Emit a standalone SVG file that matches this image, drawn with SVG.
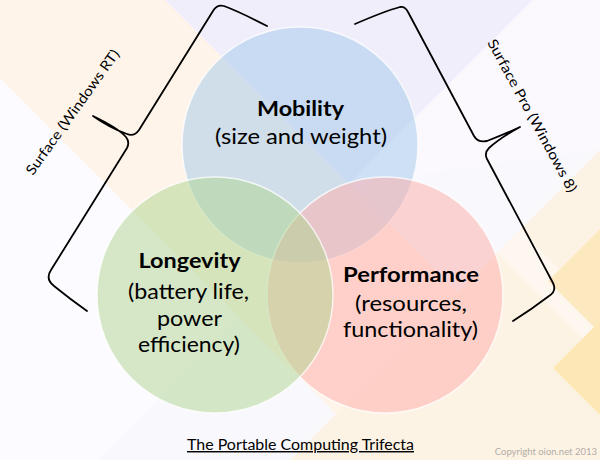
<svg xmlns="http://www.w3.org/2000/svg" width="600" height="460" viewBox="0 0 600 460">
  <defs>
    <style>
      .circ { stroke: #ffffff; stroke-width: 1.5; stroke-opacity: 0.75; fill-opacity: 0.5; }
      .title { font-family: Lato, "Liberation Sans", sans-serif; font-weight: bold; font-size: 21px; fill: #000; text-anchor: middle; }
      .sub { font-family: Lato, "Liberation Sans", sans-serif; font-size: 21px; fill: #000; text-anchor: middle; }
      .brace { fill: none; stroke: #000; stroke-width: 1.8; stroke-linejoin: round; stroke-linecap: round; }
      .blabel { font-family: Lato, "Liberation Sans", sans-serif; font-size: 14px; fill: #000; text-anchor: middle; }
      .caption { font-family: Lato, "Liberation Sans", sans-serif; font-size: 14.5px; fill: #000; text-decoration: underline; }
      .copy { font-family: Lato, "Liberation Sans", sans-serif; font-size: 9.5px; fill: #b3aca7; text-anchor: end; }
    </style>
  </defs>

  <g id="background">
    <rect x="0" y="0" width="600" height="460" fill="#fcfbff"/>
    <polygon points="557,0 600,0 600,460 97,460" fill="#f9f8fd"/>
    <polygon points="165,0 533,0 349,184" fill="#efeefa"/>
    <polygon points="533,0 600,0 600,150 349,184" fill="#fbf8fe"/>
    <polygon points="0,0 165,0 625,460 382,460 0,78" fill="#fef4ea"/>
    <polygon points="600,150 600,460 290,460" fill="#fdf3e4"/>
    <polygon points="497,253 520,230 600,310 600,356" fill="#fdf7ef"/>
    <polygon points="548,281 600,229 600,333" fill="#fde9bf"/>
    <polygon points="553,368 600,321 600,415" fill="#fde7b6"/>
  </g>

  <g id="mobility">
    <circle class="circ" cx="300" cy="145" r="118" fill="#a2c8ea"/>
  </g>
  <g id="performance">
    <circle class="circ" cx="385" cy="295" r="118" fill="#feaca8"/>
  </g>
  <g id="longevity">
    <circle class="circ" cx="215" cy="295" r="118" fill="#aed48e"/>
  </g>

  <g id="mobility-label">
    <text class="title" x="300.5" y="116" textLength="87" lengthAdjust="spacingAndGlyphs">Mobility</text>
    <text class="sub" x="301" y="144" textLength="172" lengthAdjust="spacingAndGlyphs">(size and weight)</text>
  </g>
  <g id="longevity-label">
    <text class="title" x="189.5" y="268" textLength="102" lengthAdjust="spacingAndGlyphs">Longevity</text>
    <text class="sub" x="188.5" y="299" textLength="121" lengthAdjust="spacingAndGlyphs">(battery life,</text>
    <text class="sub" x="189.5" y="326" textLength="65" lengthAdjust="spacingAndGlyphs">power</text>
    <text class="sub" x="189" y="352" textLength="102" lengthAdjust="spacingAndGlyphs">efficiency)</text>
  </g>
  <g id="performance-label">
    <text class="title" x="411" y="282" textLength="136" lengthAdjust="spacingAndGlyphs">Performance</text>
    <text class="sub" x="411" y="310.5" textLength="112" lengthAdjust="spacingAndGlyphs">(resources,</text>
    <text class="sub" x="410.5" y="337" textLength="135" lengthAdjust="spacingAndGlyphs">functionality)</text>
  </g>

  <g id="connectors">
    <path class="brace" d="M267,26 Q240,12 224,6 Q217,4 213,11 L139,130 Q134,137 127,134 Q110,128 93,116 Q118,128 126,137 Q130,142 127,148 L51,270 Q45,279 54,286 Q70,299 87,311"/>
    <path class="brace" d="M355,24 Q385,11 400,7 Q405,6 408,12 L474,136 Q478,143 487,141 Q505,134 520,127 Q500,138 489,148 Q484,153 487,159 L553,283 Q557,291 549,296 Q532,309 513,321"/>
  </g>

  <g id="surface-rt">
    <text class="blabel" transform="translate(76.5,115) rotate(-54.5)" x="0" y="0" textLength="150" lengthAdjust="spacingAndGlyphs">Surface (Windows RT)</text>
  </g>
  <g id="surface-pro">
    <text class="blabel" transform="translate(528,118) rotate(61.5)" x="0" y="0" textLength="172" lengthAdjust="spacingAndGlyphs">Surface Pro (Windows 8)</text>
  </g>

  <g id="caption">
    <text class="caption" x="187" y="450" textLength="227" lengthAdjust="spacingAndGlyphs">The Portable Computing Trifecta</text>
  </g>
  <g id="copyright">
    <text class="copy" x="597" y="455">Copyright oion.net 2013</text>
  </g>
</svg>
